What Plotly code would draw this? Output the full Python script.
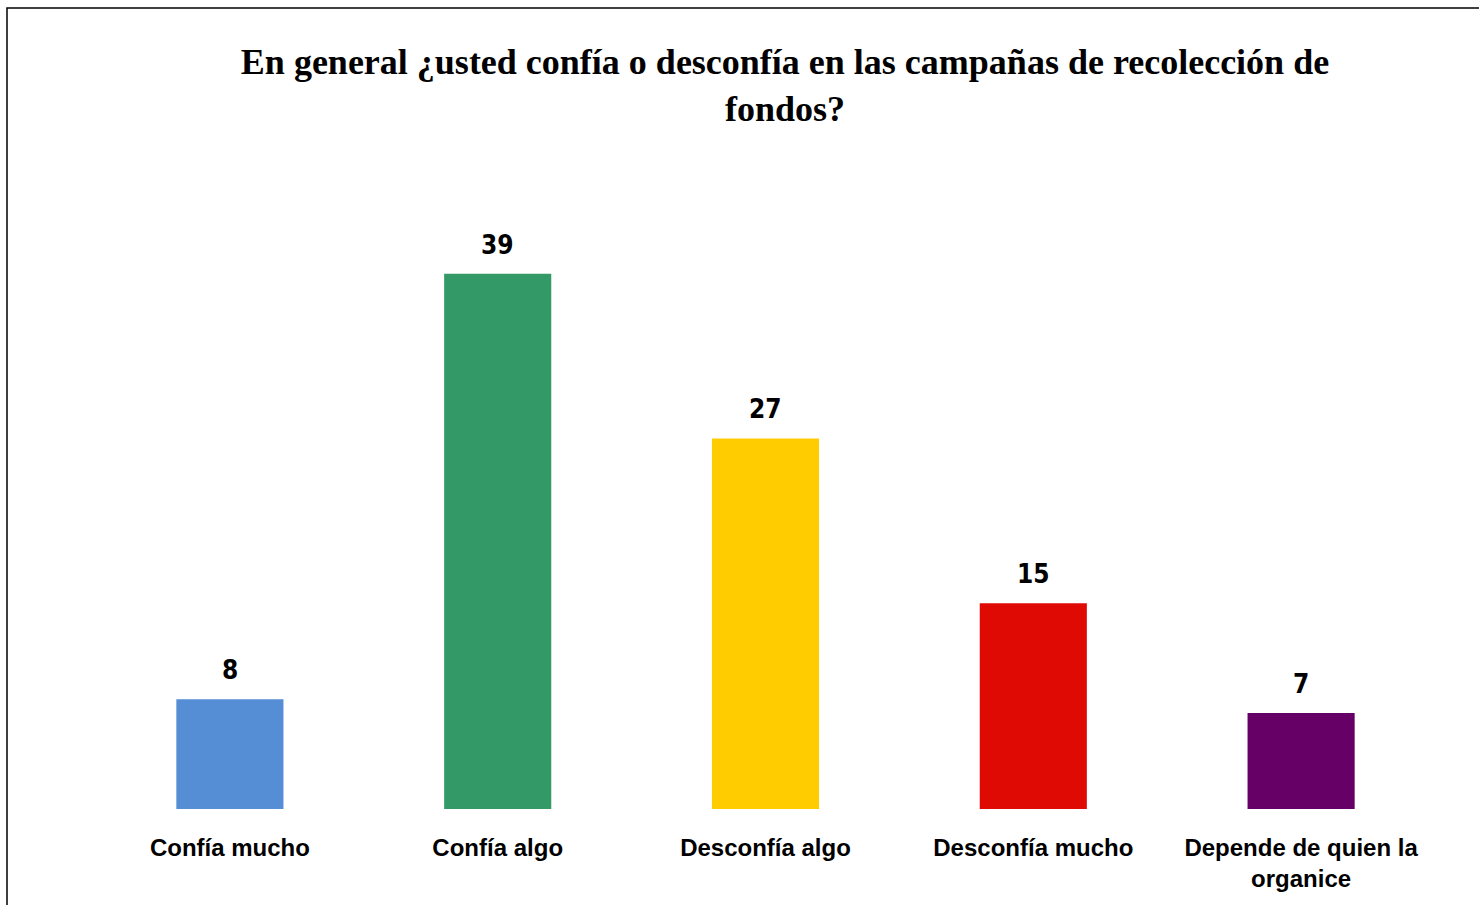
import plotly.graph_objects as go

categories = ["Confía mucho", "Confía algo", "Desconfía algo", "Desconfía mucho",
              "Depende de quien la<br>organice"]
values = [8, 39, 27, 15, 7]
colors = ["#558ED5", "#339966", "#FFCC00", "#E00A05", "#660066"]

W, H = 1479, 905
ml, mr, mt, mb = 96, 44, 260, 96
plot_w = W - ml - mr
plot_h = H - mt - mb

fig = go.Figure(go.Bar(
    x=categories,
    y=values,
    marker=dict(color=colors, line=dict(width=0)),
    cliponaxis=False,
))

# value labels above each bar
for cat, val in zip(categories, values):
    fig.add_annotation(
        x=cat, y=val, text=f"<b>{val}</b>", showarrow=False,
        yanchor="bottom", yshift=12,
        font=dict(family="Liberation Sans Narrow, Arial Narrow, DejaVu Sans Condensed, sans-serif",
                  size=26, color="#000000"),
    )

# outer frame of the chart area
fig.add_shape(type="rect", xref="paper", yref="paper",
              x0=(7 - ml) / plot_w, x1=(W + 10 - ml) / plot_w,
              y0=-(H + 10 - mt - plot_h) / plot_h, y1=(H - mb - 8) / plot_h,
              line=dict(color="#000000", width=1.5), layer="below")

fig.update_layout(
    width=W, height=H,
    margin=dict(l=ml, r=mr, t=mt, b=mb),
    paper_bgcolor="white", plot_bgcolor="white",
    bargap=0.6,
    showlegend=False,
    title=dict(
        text="<b>En general ¿usted confía o desconfía en las campañas de recolección de<br>fondos?</b>",
        x=785 / W, xanchor="center", y=1 - 74 / H, yanchor="top",
        font=dict(family="Liberation Serif, Times New Roman, serif", size=36, color="#000000"),
    ),
    xaxis=dict(
        showline=False, showgrid=False, zeroline=False, ticks="",
        tickfont=dict(family="Liberation Sans, Arial, sans-serif", size=24, color="#000000"),
        ticklabelstandoff=22,
        tickprefix="<b>", ticksuffix="</b>",
    ),
    yaxis=dict(range=[0, 40], visible=False, showgrid=False, zeroline=False),
)

fig.write_html("out.html")
